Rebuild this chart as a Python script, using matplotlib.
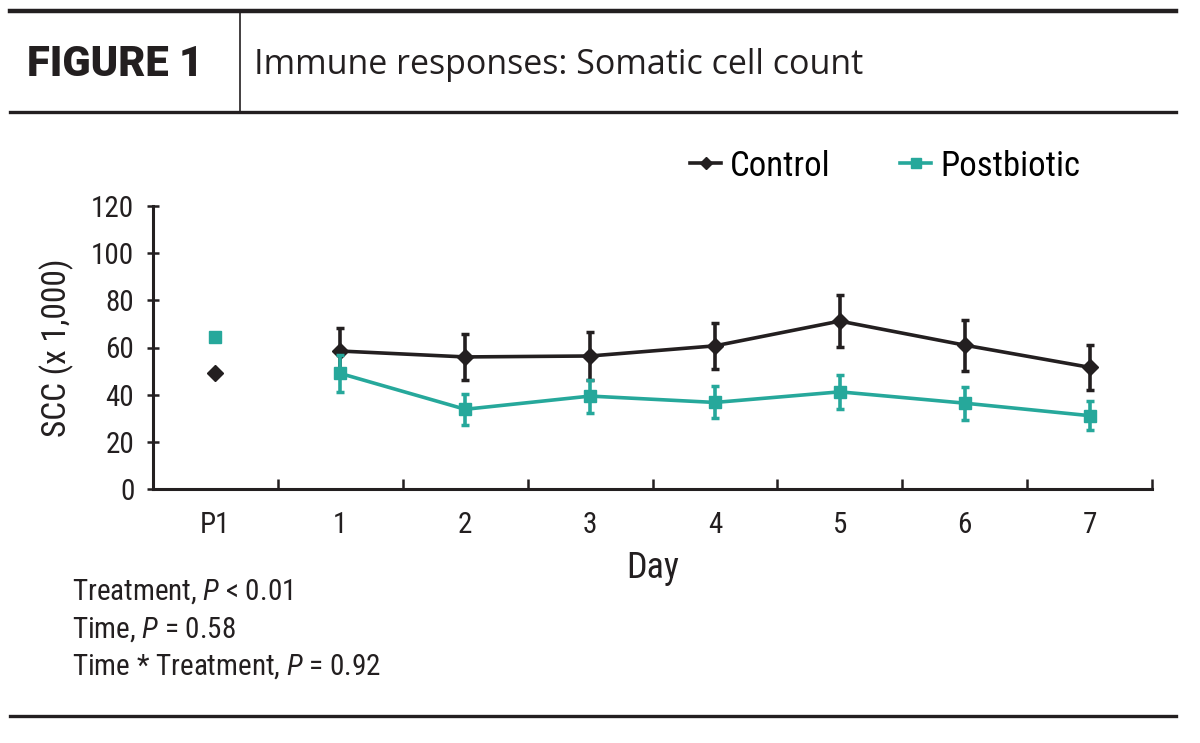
import matplotlib
matplotlib.use("Agg")
import matplotlib.pyplot as plt
from matplotlib.lines import Line2D
import numpy as np
import logging
logging.getLogger("matplotlib.font_manager").setLevel(logging.ERROR)

categories = ["P1", "1", "2", "3", "4", "5", "6", "7"]
control_mean = [49.2, 58.5, 56.0, 56.4, 60.7, 71.2, 61.0, 51.6]
control_se = [None, 9.7, 9.9, 10.0, 9.9, 11.0, 10.8, 9.5]
post_mean = [64.4, 49.0, 33.8, 39.4, 36.7, 41.2, 36.4, 31.1]
post_se = [None, 8.0, 6.5, 7.0, 6.8, 7.3, 7.0, 6.2]
yticks = [0, 20, 40, 60, 80, 100, 120]
stats_lines = [("Treatment, ", "P", " < 0.01"),
               ("Time, ", "P", " = 0.58"),
               ("Time * Treatment, ", "P", " = 0.92")]

BLACK = "#231f20"
TEAL = "#26a89b"
NARROW = ["Roboto Condensed", "Archivo Narrow", "PT Sans Narrow", "Liberation Sans"]
plt.rcParams["mathtext.fontset"] = "custom"
plt.rcParams["mathtext.it"] = "Roboto Condensed:italic"
plt.rcParams["mathtext.rm"] = "Roboto Condensed"

W, H = 1200, 743
fig = plt.figure(figsize=(W / 100, H / 100), dpi=100)

def fx(px):
    return px / W

def fy(py):
    return 1 - py / H

# Header rules
fig.add_artist(Line2D([fx(10), fx(1176)], [fy(11), fy(11)], color=BLACK, lw=3.2))
fig.add_artist(Line2D([fx(10), fx(1176)], [fy(112), fy(112)], color=BLACK, lw=2.4))
fig.add_artist(Line2D([fx(240), fx(240)], [fy(12), fy(111)], color=BLACK, lw=1.2))
fig.add_artist(Line2D([fx(10), fx(1176)], [fy(716), fy(716)], color=BLACK, lw=2.4))

fig.text(fx(27), fy(64), "FIGURE 1", fontsize=30, fontweight="black",
         family=["Roboto", "DejaVu Sans"], color=BLACK, va="center", ha="left")
fig.text(fx(254), fy(65), "Immune responses: Somatic cell count", fontsize=24.5,
         family=["Open Sans", "Roboto", "DejaVu Sans"], color=BLACK, va="center", ha="left")

# Axes
ax = fig.add_axes([fx(153), fy(489), fx(1152) - fx(153), fy(206) - fy(489)])
x = np.arange(len(categories))

# P1 points (no error bars)
ax.plot(x[0], control_mean[0], marker="D", ms=8, color=BLACK, ls="none", zorder=3)
ax.plot(x[0], post_mean[0], marker="s", ms=8.5, color=TEAL, ls="none", zorder=3)

xs = x[1:]
ax.errorbar(xs, control_mean[1:], yerr=control_se[1:], color=BLACK, lw=2.6,
            marker="D", ms=8, capsize=2.6, capthick=2.5, elinewidth=2.6, zorder=2)
ax.errorbar(xs, post_mean[1:], yerr=post_se[1:], color=TEAL, lw=2.6,
            marker="s", ms=8.5, capsize=2.6, capthick=2.5, elinewidth=2.6, zorder=3)

ax.set_xlim(-0.5, len(categories) - 0.5)
ax.set_ylim(0, 120)
ax.set_yticks(yticks)
ax.set_yticklabels([str(v) for v in yticks], family=NARROW, fontsize=21, color=BLACK)
ax.set_xticks(x)
ax.set_xticklabels(categories, family=NARROW, fontsize=21, color=BLACK)
ax.set_xticks(np.arange(-0.5, len(categories), 1.0), minor=True)
ax.tick_params(axis="x", which="major", length=0, pad=16)
ax.tick_params(axis="x", which="minor", direction="in", length=7, width=1.8, color=BLACK)
ax.tick_params(axis="y", direction="inout", length=9, width=1.8, color=BLACK, pad=9)

for s in ["top", "right"]:
    ax.spines[s].set_visible(False)
for s in ["left", "bottom"]:
    ax.spines[s].set_linewidth(2.2)
    ax.spines[s].set_color(BLACK)

ax.set_xlabel("Day", family=NARROW, fontsize=26, color=BLACK, labelpad=8)
ax.set_ylabel("SCC (x 1,000)", family=NARROW, fontsize=24, color=BLACK, labelpad=12)

# Legend
h1 = Line2D([], [], color=BLACK, lw=2.6, marker="D", ms=6)
h2 = Line2D([], [], color=TEAL, lw=2.6, marker="s", ms=7)
fig.legend([h1, h2], ["Control", "Postbiotic"], loc="center left",
           bbox_to_anchor=(fx(690), fy(166)), ncol=2, frameon=False,
           prop={"family": NARROW, "size": 25}, handlelength=0.9,
           handletextpad=0.25, columnspacing=2.0, borderpad=0, borderaxespad=0)

# Stats text
ys = [592, 630, 667]
for (a, p, b), yy in zip(stats_lines, ys):
    fig.text(fx(72), fy(yy), a + "$\\it{" + p + "}$" + b, fontsize=21,
             family=NARROW, color=BLACK, va="center", ha="left")

fig.savefig("out.png", dpi=100)
